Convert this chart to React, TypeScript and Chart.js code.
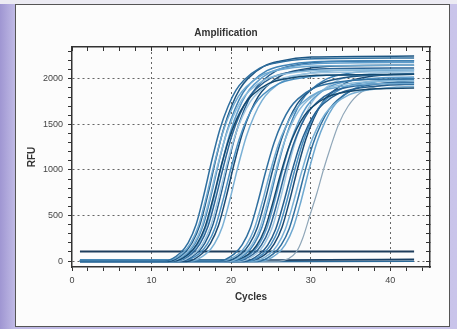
import React, { useEffect, useRef } from "react";
import { Chart, registerables } from "chart.js";

Chart.register(...registerables);

// Amplification curves: [cycle, RFU] points
const earlyCurves: number[][][] = [
  [[1,0],[11.6,0],[13.6,89],[14.6,201],[15.6,401],[16.6,736],[17.6,1115],[18.6,1450],[19.6,1695],[20.6,1873],[21.6,1985],[23.6,2119],[25.6,2174],[29.6,2219],[43,2230]],
  [[1,5],[11.9,5],[13.9,86],[14.9,194],[15.9,387],[16.9,710],[17.9,1075],[18.9,1398],[19.9,1634],[20.9,1806],[21.9,1914],[23.9,2043],[25.9,2096],[29.9,2139],[43,2150]],
  [[1,-5],[12.1,-5],[14.1,90],[15.1,203],[16.1,405],[17.1,743],[18.1,1125],[19.1,1463],[20.1,1710],[21.1,1890],[22.1,2003],[24.1,2138],[26.1,2194],[30.1,2239],[43,2250]],
  [[1,0],[12.3,0],[14.3,84],[15.3,189],[16.3,378],[17.3,693],[18.3,1050],[19.3,1365],[20.3,1596],[21.3,1764],[22.3,1869],[24.3,1995],[26.3,2048],[30.3,2090],[43,2100]],
  [[1,10],[12.5,10],[14.5,88],[15.5,198],[16.5,396],[17.5,726],[18.5,1100],[19.5,1430],[20.5,1672],[21.5,1848],[22.5,1958],[24.5,2090],[26.5,2145],[30.5,2189],[43,2200]],
  [[1,0],[12.7,0],[14.7,82],[15.7,185],[16.7,369],[17.7,677],[18.7,1025],[19.7,1333],[20.7,1558],[21.7,1722],[22.7,1825],[24.7,1948],[26.7,1999],[30.7,2040],[43,2050]],
  [[1,-5],[12.9,-5],[14.9,87],[15.9,196],[16.9,392],[17.9,719],[18.9,1090],[19.9,1417],[20.9,1657],[21.9,1831],[22.9,1940],[24.9,2071],[26.9,2126],[30.9,2169],[43,2180]],
  [[1,5],[13.1,5],[15.1,85],[16.1,191],[17.1,382],[18.1,700],[19.1,1060],[20.1,1378],[21.1,1611],[22.1,1781],[23.1,1887],[25.1,2014],[27.1,2067],[31.1,2109],[43,2120]],
  [[1,0],[13.4,0],[15.4,83],[16.4,187],[17.4,374],[18.4,686],[19.4,1040],[20.4,1352],[21.4,1581],[22.4,1747],[23.4,1851],[25.4,1976],[27.4,2028],[31.4,2070],[43,2080]],
  [[1,0],[13.7,0],[15.7,88],[16.7,198],[17.7,396],[18.7,726],[19.7,1100],[20.7,1430],[21.7,1672],[22.7,1848],[23.7,1958],[25.7,2090],[27.7,2145],[31.7,2189],[43,2200]],
  [[1,10],[14,10],[16,82],[17,185],[18,369],[19,677],[20,1025],[21,1333],[22,1558],[23,1722],[24,1825],[26,1948],[28,1999],[32,2040],[43,2050]],
  [[1,-5],[14.4,-5],[16.4,86],[17.4,194],[18.4,387],[19.4,710],[20.4,1075],[21.4,1398],[22.4,1634],[23.4,1806],[24.4,1914],[26.4,2043],[28.4,2096],[32.4,2139],[43,2150]],
  [[1,0],[14.9,0],[16.9,84],[17.9,189],[18.9,378],[19.9,693],[20.9,1050],[21.9,1365],[22.9,1596],[23.9,1764],[24.9,1869],[26.9,1995],[28.9,2048],[32.9,2090],[43,2100]],
];

const lateCurves: number[][][] = [
  [[1,0],[18.4,0],[20.4,80],[21.4,180],[22.4,360],[23.4,660],[24.4,1000],[25.4,1300],[26.4,1520],[27.4,1680],[28.4,1780],[30.4,1900],[32.4,1950],[36.4,1990],[43,2000]],
  [[1,5],[18.9,5],[20.9,78],[21.9,176],[22.9,351],[23.9,644],[24.9,975],[25.9,1268],[26.9,1482],[27.9,1638],[28.9,1736],[30.9,1853],[32.9,1901],[36.9,1940],[43,1950]],
  [[1,0],[19.3,0],[21.3,82],[22.3,185],[23.3,369],[24.3,677],[25.3,1025],[26.3,1333],[27.3,1558],[28.3,1722],[29.3,1825],[31.3,1948],[33.3,1999],[37.3,2040],[43,2050]],
  [[1,-5],[19.6,-5],[21.6,79],[22.6,178],[23.6,356],[24.6,653],[25.6,990],[26.6,1287],[27.6,1505],[28.6,1663],[29.6,1762],[31.6,1881],[33.6,1931],[37.6,1970],[43,1980]],
  [[1,0],[19.9,0],[21.9,84],[22.9,189],[23.9,378],[24.9,693],[25.9,1050],[26.9,1365],[27.9,1596],[28.9,1764],[29.9,1869],[31.9,1995],[33.9,2048],[37.9,2090],[43,2100]],
  [[1,10],[20.2,10],[22.2,76],[23.2,171],[24.2,342],[25.2,627],[26.2,950],[27.2,1235],[28.2,1444],[29.2,1596],[30.2,1691],[32.2,1805],[34.2,1853],[38.2,1891],[43,1900]],
  [[1,0],[20.5,0],[22.5,81],[23.5,182],[24.5,364],[25.5,667],[26.5,1010],[27.5,1313],[28.5,1535],[29.5,1697],[30.5,1798],[32.5,1919],[34.5,1970],[38.5,2010],[43,2020]],
  [[1,5],[20.8,5],[22.8,78],[23.8,176],[24.8,353],[25.8,647],[26.8,980],[27.8,1274],[28.8,1490],[29.8,1646],[30.8,1744],[32.8,1862],[34.8,1911],[38.8,1950],[43,1960]],
  [[1,0],[21.2,0],[23.2,83],[24.2,187],[25.2,374],[26.2,686],[27.2,1040],[28.2,1352],[29.2,1581],[30.2,1747],[31.2,1851],[33.2,1976],[35.2,2028],[39.2,2070],[43,2080]],
  [[1,-5],[21.6,-5],[23.6,78],[24.6,175],[25.6,349],[26.6,640],[27.6,970],[28.6,1261],[29.6,1474],[30.6,1630],[31.6,1727],[33.6,1843],[35.6,1892],[39.6,1930],[43,1940]],
  [[1,0],[22,0],[24,80],[25,180],[26,360],[27,660],[28,1000],[29,1300],[30,1520],[31,1680],[32,1780],[34,1900],[36,1950],[40,1990],[43,2000]],
  [[1,10],[22.4,10],[24.4,82],[25.4,185],[26.4,371],[27.4,680],[28.4,1030],[29.4,1339],[30.4,1566],[31.4,1730],[32.4,1833],[34.4,1957],[36.4,2009],[40.4,2050],[43,2060]],
  [[1,0],[22.8,0],[24.8,77],[25.8,173],[26.8,346],[27.8,634],[28.8,960],[29.8,1248],[30.8,1459],[31.8,1613],[32.8,1709],[34.8,1824],[36.8,1872],[40.8,1910],[43,1920]],
  [[1,-5],[23.3,-5],[25.3,79],[26.3,178],[27.3,356],[28.3,653],[29.3,990],[30.3,1287],[31.3,1505],[32.3,1663],[33.3,1762],[35.3,1881],[37.3,1931],[41.3,1970],[43,1980]],
  [[1,0],[23.8,0],[25.8,80],[26.8,181],[27.8,362],[28.8,663],[29.8,1005],[30.8,1307],[31.8,1528],[32.8,1688],[33.8,1789],[35.8,1910],[37.8,1960],[41.8,2000],[43,2010]],
];

const lateOutlier: number[][] = [[1,0],[26,0],[28.2,100],[29,250],[29.9,500],[30.8,750],[31.6,1000],[32.5,1250],[33.5,1500],[34.7,1700],[36.3,1850],[38.5,1920],[41,1950],[43,1960]];
const thresholdLine: number[][] = [[1,105],[43,105]];
const flatLineA: number[][] = [[1,12],[8,10],[16,6],[24,10],[32,14],[43,18]];
const flatLineB: number[][] = [[1,-4],[20,-6],[43,-2]];

const xMajorTicks = [0, 10, 20, 30, 40];
const yMajorTicks = [0, 500, 1000, 1500, 2000];
const xMinorStep = 2;
const yMinorStep = 100;

const palette = ["#2f6f9f","#6ea8d0","#1d5683","#8bbbdb","#3f83b6","#15496f","#5d9ccb","#2a6496","#9cc4e0","#245e8e","#4b8fc0","#1a4b75","#7ab0d5"];

const FONT = "'Liberation Sans', Arial, sans-serif";

function toXY(pts: number[][]) {
  return pts.map(([x, y]) => ({ x, y }));
}

function buildTicks(max: number, step: number) {
  const out: { value: number }[] = [];
  for (let v = 0; v <= max; v += step) out.push({ value: v });
  return out;
}

export default function App() {
  const ref = useRef<HTMLCanvasElement | null>(null);

  useEffect(() => {
    if (!ref.current) return;
    const datasets: any[] = [];
    [...earlyCurves, ...lateCurves].forEach((pts, i) => {
      datasets.push({
        data: toXY(pts),
        borderColor: palette[i % palette.length],
        borderWidth: 1.5,
        pointRadius: 0,
        cubicInterpolationMode: "monotone",
        fill: false,
      });
    });
    datasets.push({ data: toXY(lateOutlier), borderColor: "#8fa6b8", borderWidth: 1.2, pointRadius: 0, cubicInterpolationMode: "monotone", fill: false });
    datasets.push({ data: toXY(flatLineA), borderColor: "#1a3f63", borderWidth: 1.8, pointRadius: 0, cubicInterpolationMode: "monotone", fill: false });
    datasets.push({ data: toXY(flatLineB), borderColor: "#2b6a9a", borderWidth: 1.5, pointRadius: 0, fill: false });
    datasets.push({ data: toXY(thresholdLine), borderColor: "#1e3d5c", borderWidth: 2, pointRadius: 0, fill: false });

    const xMin = 0, xMax = 45, yMin = -65, yMax = 2350;
    const gridDash = [2, 3];

    const chart = new Chart(ref.current, {
      type: "line",
      data: { datasets },
      options: {
        animation: false,
        responsive: false,
        events: [],
        layout: { padding: { left: 22, top: 27, right: 27, bottom: 22 } },
        plugins: {
          legend: { display: false },
          tooltip: { enabled: false },
          title: {
            display: true,
            text: "Amplification",
            color: "#333",
            font: { family: FONT, size: 10, weight: "bold" },
            padding: { top: 0, bottom: 8 },
          },
        },
        scales: {
          x: {
            type: "linear",
            position: "bottom",
            min: xMin,
            max: xMax,
            afterBuildTicks: (s: any) => { s.ticks = buildTicks(44, xMinorStep); },
            afterFit: (s: any) => { s.height = 40; },
            ticks: {
              autoSkip: false,
              maxRotation: 0,
              padding: 4,
              color: "#444",
              font: { family: FONT, size: 9 },
              callback: (v: any) => (xMajorTicks.includes(Number(v)) ? String(v) : ""),
            },
            grid: {
              color: (c: any) => (c.tick && xMajorTicks.includes(c.tick.value) && c.tick.value !== 0 ? "#666" : "transparent"),
              tickColor: "#333",
              tickLength: 4,
              lineWidth: 1,
            } as any,
            border: { display: true, color: "#333", width: 1.5, dash: gridDash } as any,
            title: {
              display: true,
              text: "Cycles",
              color: "#333",
              font: { family: FONT, size: 10, weight: "bold" },
              padding: { top: 4, bottom: 4 },
            },
          },
          xTop: {
            type: "linear",
            position: "top",
            min: xMin,
            max: xMax,
            afterBuildTicks: (s: any) => { s.ticks = buildTicks(44, xMinorStep); },
            afterFit: (s: any) => { s.height = 0; },
            ticks: { display: false },
            grid: { drawOnChartArea: false, tickColor: "#333", tickLength: -4 },
            border: { display: true, color: "#333", width: 1.5 },
          },
          y: {
            type: "linear",
            position: "left",
            min: yMin,
            max: yMax,
            afterBuildTicks: (s: any) => { s.ticks = buildTicks(2300, yMinorStep); },
            afterFit: (s: any) => { s.width = 50; },
            ticks: {
              autoSkip: false,
              padding: 5,
              color: "#444",
              font: { family: FONT, size: 9 },
              callback: (v: any) => (yMajorTicks.includes(Number(v)) ? String(v) : ""),
            },
            grid: {
              color: (c: any) => (c.tick && yMajorTicks.includes(c.tick.value) ? "#666" : "transparent"),
              tickColor: "#333",
              tickLength: 4,
              lineWidth: 1,
            } as any,
            border: { display: true, color: "#333", width: 1.5, dash: gridDash } as any,
            title: {
              display: true,
              text: "RFU",
              color: "#333",
              font: { family: FONT, size: 10, weight: "bold" },
              padding: { top: 4, bottom: 4 },
            },
          },
          yRight: {
            type: "linear",
            position: "right",
            min: yMin,
            max: yMax,
            afterBuildTicks: (s: any) => { s.ticks = buildTicks(2300, yMinorStep); },
            afterFit: (s: any) => { s.width = 0; },
            ticks: { display: false },
            grid: { drawOnChartArea: false, tickColor: "#333", tickLength: -4 },
            border: { display: true, color: "#333", width: 1.5 },
          },
        },
      } as any,
    });
    return () => chart.destroy();
  }, []);

  return (
    <div
      style={{
        position: "fixed",
        left: 0,
        top: 0,
        width: 457,
        height: 329,
        overflow: "hidden",
        background: "linear-gradient(to right, #9f96d2 0px, #beb8e4 14px, #c9c4ea 100%)",
      }}
    >
      <div
        style={{
          position: "absolute",
          left: 0,
          top: 0,
          width: 457,
          height: 4,
          background: "#ecebf3",
        }}
      />
      <div
        style={{
          position: "absolute",
          left: 15,
          top: 4,
          width: 433,
          height: 321,
          background: "#fcfcfc",
          border: "1px solid #555",
        }}
      />
      <canvas
        ref={ref}
        width={457}
        height={329}
        style={{ position: "absolute", left: 0, top: 0, width: 457, height: 329 }}
      />
    </div>
  );
}
